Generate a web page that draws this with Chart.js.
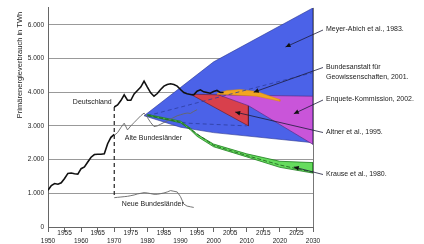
<!DOCTYPE html>
<html>
<head>
<meta charset="utf-8">
<script src="https://cdn.jsdelivr.net/npm/chart.js@4"></script>
<style>
  html, body { margin: 0; padding: 0; background: #fff; }
</style>
</head>
<body>
<canvas id="chart" width="424" height="244"></canvas>
<script>
'use strict';

// Primärenergieverbrauch (TWh)
const yearsEarly = [1950, 1951, 1952, 1953, 1954, 1955, 1956, 1957, 1958, 1959, 1960,
  1961, 1962, 1963, 1964, 1965, 1966, 1967, 1968, 1969, 1970];
const deutschlandEarly = [1090, 1230, 1290, 1270, 1310, 1440, 1590, 1600, 1580, 1570, 1730,
  1780, 1930, 2070, 2150, 2160, 2160, 2170, 2470, 2660, 2750];

const yearsDE = [1970, 1971, 1972, 1973, 1974, 1975, 1976, 1977, 1978, 1979, 1980, 1981,
  1982, 1983, 1984, 1985, 1986, 1987, 1988, 1989, 1990, 1991, 1992, 1993, 1994, 1995,
  1996, 1997, 1998, 1999, 2000, 2001, 2002, 2003];
const deutschland = [3560, 3620, 3750, 3920, 3760, 3760, 3950, 4050, 4150, 4330, 4150, 3980,
  3880, 3960, 4080, 4180, 4230, 4250, 4230, 4180, 4080, 3990, 3950, 3930, 3920, 4030,
  4070, 4010, 3990, 3970, 4020, 4050, 3990, 3990];

const yearsAlt = [1970, 1971, 1972, 1973, 1974, 1975, 1976, 1977, 1978, 1979, 1980, 1981,
  1982, 1983, 1984, 1985, 1986, 1987, 1988, 1989, 1990, 1991, 1992, 1993, 1994, 1995];
const alteBL = [2720, 2800, 2950, 3080, 2880, 3000, 3100, 3200, 3300, 3380, 3250, 3100,
  2980, 3000, 3050, 3100, 3150, 3200, 3250, 3300, 3330, 3360, 3380, 3370, 3430, 3480];

const yearsNeu = [1970, 1971, 1972, 1973, 1974, 1975, 1976, 1977, 1978, 1979, 1980, 1981,
  1982, 1983, 1984, 1985, 1986, 1987, 1988, 1989, 1990, 1991, 1992, 1993, 1994];
const neueBL = [870, 880, 890, 900, 910, 930, 950, 980, 1000, 1020, 1010, 990,
  970, 970, 990, 1010, 1040, 1080, 1060, 1040, 900, 680, 620, 600, 580];

const splitYears = [1970, 1970];
const splitValues = [3560, 870];

// Szenarien als geschlossene Flächen
const meyerYears = [1979, 2000, 2030, 2030, 2000, 1990, 1979];
const meyerValues = [3300, 4900, 6500, 2500, 2800, 2960, 3300];

const altnerYears = [1993, 2010.5, 2010.5, 1993];
const altnerValues = [3940, 3900, 3000, 3940];

const enqueteYears = [2001.5, 2030, 2030, 2010.5, 2001.5];
const enqueteValues = [3920, 3880, 2450, 3600, 3920];

const bgrYears = [2001, 2004, 2008, 2013, 2020, 2020, 2013, 2005, 2001];
const bgrValues = [3960, 4050, 4080, 4020, 3780, 3730, 3880, 3920, 3940];

const bgrTrendYears = [1980, 2030];
const bgrTrendValues = [3300, 4580];
const lowTrendYears = [1980, 1992, 2010];
const lowTrendValues = [3300, 3080, 3000];

const krauseYears = [1980, 1985, 1990, 1993, 1995, 2000, 2010, 2020, 2030];
const krauseUpper = [3340, 3240, 3140, 2930, 2750, 2460, 2170, 1950, 1910];
const krauseLower = [3300, 3200, 3090, 2880, 2690, 2380, 2080, 1770, 1600];
const krauseLineYears = [1980, 1990, 2000, 2010, 2020, 2030];
const krauseLineValues = [3320, 3110, 2420, 2120, 1840, 1620];

// Beschriftungen
const scenarioNames = ['Meyer-Abich et al., 1983.', ['Bundesanstalt für', 'Geowissenschaften, 2001.'],
  'Enquete-Kommission, 2002.', 'Altner et al., 1995.', 'Krause et al., 1980.'];
const arrowYears = [2021.7, 2012.1, 2024.2, 2006.5, 2024.2];
const arrowValues = [5340, 4000, 3360, 3410, 1780];

const seriesNames = ['Deutschland', 'Alte Bundesländer', 'Neue Bundesländer'];
const seriesNameYears = [1957.5, 1973.2, 1972.3];
const seriesNameValues = [3710, 2645, 670];

const yTicks = [0, 1000, 2000, 3000, 4000, 5000, 6000];

function pts(xs, ys) {
  return xs.map((x, i) => ({x: x, y: ys[i]}));
}

const FONT = '"Liberation Sans", Arial, sans-serif';

function arrow(ctx, x0, y0, x1, y1) {
  ctx.beginPath();
  ctx.moveTo(x0, y0);
  ctx.lineTo(x1, y1);
  ctx.stroke();
  const a = Math.atan2(y1 - y0, x1 - x0);
  const len = 5, w = 2.3;
  ctx.beginPath();
  ctx.moveTo(x1, y1);
  ctx.lineTo(x1 - len * Math.cos(a) + w * Math.sin(a), y1 - len * Math.sin(a) - w * Math.cos(a));
  ctx.lineTo(x1 - len * Math.cos(a) - w * Math.sin(a), y1 - len * Math.sin(a) + w * Math.cos(a));
  ctx.closePath();
  ctx.fill();
}

const annotate = {
  id: 'annotate',
  afterDatasetsDraw(chart) {
    const {ctx, chartArea, scales: {x, y}} = chart;
    ctx.save();

    // rechter Rahmen bei 2030
    ctx.strokeStyle = '#777';
    ctx.lineWidth = 1;
    ctx.beginPath();
    ctx.moveTo(chartArea.right + 0.5, chartArea.top);
    ctx.lineTo(chartArea.right + 0.5, chartArea.bottom);
    ctx.stroke();

    // Szenario-Texte mit Pfeilen
    const labelY = [29.5, 67, 99.5, 132, 174];
    const textX = chartArea.right + 13;
    ctx.font = '7px ' + FONT;
    ctx.textBaseline = 'middle';
    ctx.textAlign = 'left';
    scenarioNames.forEach((name, i) => {
      ctx.strokeStyle = '#1c1c3a';
      ctx.fillStyle = '#111';
      ctx.lineWidth = 0.8;
      arrow(ctx, textX - 3, labelY[i] + 0.5, x.getPixelForValue(arrowYears[i]), y.getPixelForValue(arrowValues[i]));
      ctx.fillStyle = '#222';
      const lines = Array.isArray(name) ? name : [name];
      lines.forEach((t, j) => ctx.fillText(t, textX, labelY[i] + j * 10.5));
    });

    // Reihen-Beschriftungen
    seriesNames.forEach((name, i) => {
      ctx.fillText(name, x.getPixelForValue(seriesNameYears[i]), y.getPixelForValue(seriesNameValues[i]));
    });

    // y-Achsentitel
    ctx.translate(20, 65);
    ctx.rotate(-Math.PI / 2);
    ctx.textAlign = 'center';
    ctx.font = '7.5px ' + FONT;
    ctx.fillText('Primärenergieverbrauch in TWh', 0, 0);
    ctx.restore();
  }
};

const lineBase = {pointRadius: 0, tension: 0, fill: false};

const data = {
  datasets: [
    {...lineBase, label: 'Deutschland bis 1970', data: pts(yearsEarly, deutschlandEarly), borderColor: '#111', borderWidth: 1.6},
    {...lineBase, label: 'Deutschland', data: pts(yearsDE, deutschland), borderColor: '#111', borderWidth: 1.6},
    {...lineBase, label: 'Teilung', data: pts(splitYears, splitValues), borderColor: '#222', borderWidth: 1.2, borderDash: [4, 3]},
    {...lineBase, label: 'Alte Bundesländer', data: pts(yearsAlt, alteBL), borderColor: '#666', borderWidth: 0.9},
    {...lineBase, label: 'Neue Bundesländer', data: pts(yearsNeu, neueBL), borderColor: '#666', borderWidth: 0.9},
    {...lineBase, label: 'Krause Linie', data: pts(krauseLineYears, krauseLineValues), borderColor: '#1d5a1d', borderWidth: 0.8, borderDash: [4, 2]},
    {...lineBase, label: 'Krause et al., 1980', data: pts(krauseYears.concat(krauseYears.slice().reverse()), krauseUpper.concat(krauseLower.slice().reverse())),
      fill: 'shape', backgroundColor: '#66dc5e', borderColor: '#1e7d1e', borderWidth: 0.8},
    {...lineBase, label: 'BGR Trend', data: pts(bgrTrendYears, bgrTrendValues), borderColor: '#2c3c9e', borderWidth: 0.8, borderDash: [4, 3]},
    {...lineBase, label: 'Untere Linie', data: pts(lowTrendYears, lowTrendValues), borderColor: '#2c3c9e', borderWidth: 0.8, borderDash: [4, 3]},
    {...lineBase, label: 'Bundesanstalt für Geowissenschaften, 2001', data: pts(bgrYears, bgrValues),
      fill: 'shape', backgroundColor: '#f2a521', borderColor: '#d98a10', borderWidth: 0.5},
    {...lineBase, label: 'Enquete-Kommission, 2002', data: pts(enqueteYears, enqueteValues),
      fill: 'shape', backgroundColor: '#c955d9', borderColor: '#4a2a7a', borderWidth: 0.6},
    {...lineBase, label: 'Altner et al., 1995', data: pts(altnerYears, altnerValues),
      fill: 'shape', backgroundColor: '#d8404c', borderColor: '#5a1a2a', borderWidth: 0.6},
    {...lineBase, label: 'Meyer-Abich et al., 1983', data: pts(meyerYears, meyerValues),
      fill: 'shape', backgroundColor: '#4b62e8', borderColor: '#2a3590', borderWidth: 0.6}
  ]
};

const config = {
  type: 'line',
  data: data,
  options: {
    responsive: false,
    animation: false,
    layout: {padding: {top: 7, right: 111, left: 0, bottom: 0}},
    plugins: {legend: {display: false}, tooltip: {enabled: false}},
    scales: {
      x: {
        type: 'linear',
        min: 1950,
        max: 2030,
        afterFit: s => { s.height = 17; },
        border: {color: '#666', width: 1},
        grid: {drawOnChartArea: false, drawTicks: true, tickLength: 5, color: '#666'},
        ticks: {
          stepSize: 5,
          autoSkip: false,
          maxRotation: 0,
          padding: -2,
          color: '#222',
          font: {family: FONT, size: 6.5, lineHeight: 1.1},
          callback: v => (v % 10 === 0) ? ['', String(v)] : [String(v), '']
        }
      },
      y: {
        min: 0,
        max: 6500,
        afterFit: s => { s.width = 48; },
        afterBuildTicks: s => { s.ticks = yTicks.map(v => ({value: v})); },
        border: {color: '#666', width: 1},
        grid: {color: '#999', lineWidth: 1, drawTicks: false},
        ticks: {
          padding: 4,
          color: '#222',
          font: {family: FONT, size: 6.5},
          callback: v => v === 0 ? '0' : (v / 1000) + '.000'
        }
      }
    }
  },
  plugins: [annotate]
};

let myChart = new Chart(document.getElementById('chart'), config);
</script>
</body>
</html>
